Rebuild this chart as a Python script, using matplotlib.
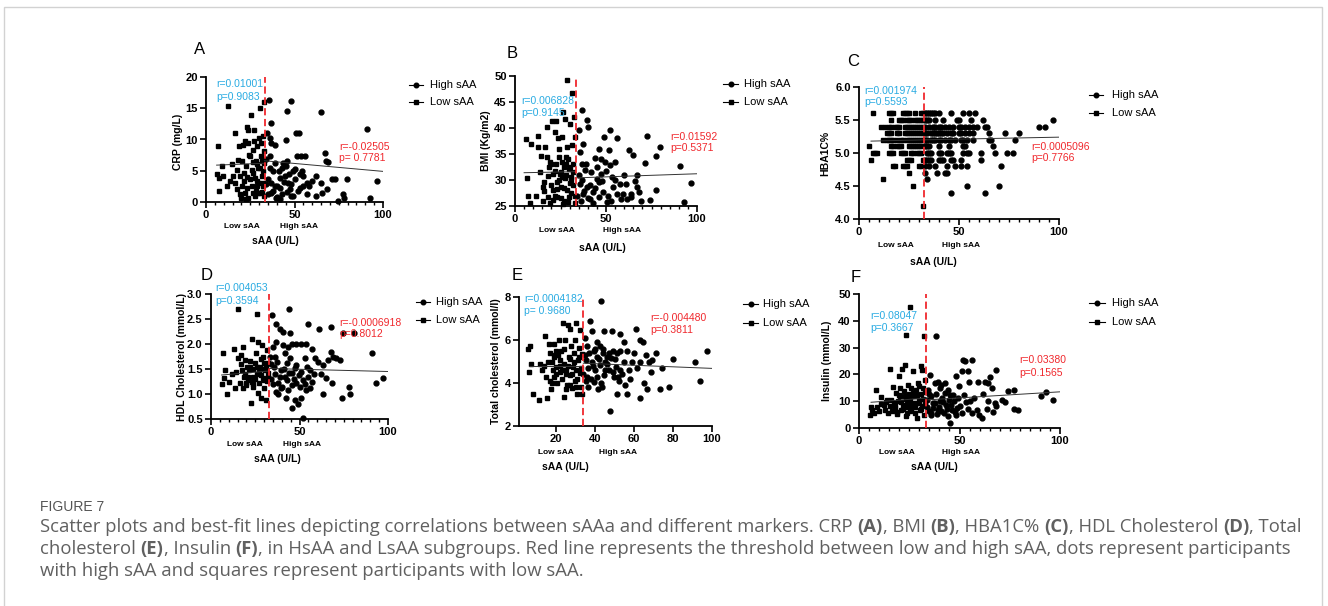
import matplotlib
matplotlib.use('Agg')
import matplotlib.pyplot as plt
from matplotlib.lines import Line2D
from matplotlib.patches import Rectangle
from matplotlib.ticker import MultipleLocator, FormatStrFormatter

plt.rcParams['font.family'] = ['Liberation Sans', 'DejaVu Sans']

# ---- data (x = sAA U/L) ----
a_low = [(6.4, 4.5), (6.6, 9.0), (7.5, 3.8), (7.5, 1.7), (8.8, 5.8), (12.6, 15.3), (13.5, 3.3), (14.5, 6.0),
         (15.4, 4.1), (16.4, 11.0), (16.4, 3.0), (17.3, 5.1), (18.2, 6.7), (18.8, 8.9), (19.2, 4.1), (19.5, 0.6),
         (20.1, 2.5), (20.7, 9.1), (21.4, 4.6), (22.0, 9.7), (22.6, 5.7), (22.9, 2.2), (23.3, 12.0), (23.9, 11.5),
         (23.9, 0.6), (24.4, 7.5), (24.8, 3.6), (25.4, 13.9), (25.8, 5.1), (26.3, 8.3), (26.7, 1.4), (27.1, 9.7),
         (27.6, 3.8), (28.2, 6.5), (28.6, 2.5), (29.0, 8.9), (29.5, 5.4), (30.1, 10.2), (30.5, 15.1), (30.5, 1.4),
         (31.0, 7.3), (31.4, 4.1), (32.0, 10.5), (32.3, 2.5), (32.9, 16.0), (32.7, 8.1), (32.9, 0.9),
         (9.8, 4.1), (11.7, 2.5), (17.3, 2.0), (20.1, 6.5), (21.4, 3.3), (22.6, 0.5), (24.8, 7.3), (25.8, 2.5),
         (26.7, 4.6), (27.6, 0.9), (28.6, 6.0), (29.0, 3.3), (29.5, 1.4), (30.1, 3.0), (30.5, 5.4), (31.0, 9.5),
         (31.4, 6.5), (32.0, 3.0), (32.3, 5.0), (32.7, 6.2), (22.0, 1.5), (23.3, 4.0), (26.3, 6.4), (28.2, 1.8),
         (31.8, 1.6), (27.0, 11.5), (24.0, 9.4), (19.0, 1.3)]
a_high = [(35.7, 16.3), (36.5, 12.7), (34.5, 11.0), (36.1, 10.2), (37.0, 9.4), (38.9, 9.1), (36.1, 7.3), (38.0, 4.9),
          (35.2, 3.6), (37.0, 1.4), (39.5, 0.6), (40.2, 2.5), (41.7, 3.8), (42.7, 5.4), (43.6, 6.2), (44.5, 4.1),
          (45.1, 9.9), (45.5, 14.6), (46.0, 6.6), (46.4, 3.0), (47.4, 2.0), (48.1, 16.1), (48.3, 0.9), (49.2, 4.9),
          (50.2, 3.6), (50.8, 11.1), (52.3, 11.1), (51.5, 7.3), (53.0, 2.2), (53.9, 7.3), (54.5, 4.9), (54.9, 4.1),
          (56.0, 7.4), (56.8, 3.0), (58.3, 2.5), (62.0, 4.1), (62.4, 0.9), (64.7, 3.0), (64.8, 14.4), (65.8, 1.4),
          (67.1, 7.8), (68.0, 6.6), (69.0, 6.4), (68.4, 2.0), (71.4, 3.6), (72.7, 3.6), (74.6, 0.2), (77.4, 1.2),
          (77.8, 0.7), (79.7, 3.7), (91.0, 11.7), (92.9, 0.7), (96.8, 3.4),
          (36.0, 5.5), (37.0, 3.0), (38.0, 1.8), (39.0, 6.2), (40.0, 0.8), (41.0, 5.0), (42.0, 2.2), (43.0, 1.2),
          (44.0, 3.2), (45.0, 5.8), (46.0, 1.6), (47.0, 4.4), (48.0, 2.8), (49.0, 1.0), (50.0, 5.2), (52.0, 1.8),
          (53.0, 4.4), (55.0, 2.6), (57.0, 1.2), (60.0, 3.3), (34.0, 2.8), (35.0, 1.2), (34.0, 6.8), (39.0, 2.6),
          (42.0, 0.4)]

b_low = [(5.9, 37.8), (6.4, 30.3), (7.3, 26.9), (8.3, 25.5), (8.8, 36.9), (11.6, 26.9), (12.8, 38.4), (12.8, 36.3),
         (14.3, 34.6), (15.2, 28.7), (15.6, 26.0), (16.0, 29.6), (16.5, 36.3), (17.4, 40.1), (17.4, 34.4),
         (18.3, 26.7), (18.9, 32.5), (19.3, 25.5), (20.2, 41.3), (20.7, 31.1), (21.1, 28.0), (22.0, 39.2),
         (22.6, 41.3), (22.6, 33.1), (22.9, 29.6), (23.3, 26.7), (23.9, 38.0), (24.4, 36.0), (24.8, 31.2),
         (25.1, 28.7), (25.7, 38.3), (26.2, 25.3), (26.6, 43.1), (26.9, 32.5), (27.5, 41.8), (27.5, 30.3),
         (28.1, 34.4), (28.4, 28.0), (28.8, 49.2), (28.8, 36.3), (29.4, 32.2), (29.9, 26.7), (30.3, 40.8),
         (30.6, 30.6), (31.2, 46.8), (31.2, 36.7), (31.7, 33.1), (32.1, 29.0), (32.5, 42.1), (32.7, 25.5),
         (33.0, 38.3), (14.0, 31.5), (16.0, 27.8), (18.0, 30.8), (19.0, 33.5), (20.0, 29.0), (21.0, 26.2),
         (22.0, 31.8), (23.0, 28.2), (24.0, 30.0), (25.0, 26.6), (26.0, 33.5), (27.0, 28.5), (28.0, 31.0),
         (29.0, 25.8), (30.0, 32.5), (31.0, 27.5), (32.0, 31.5), (20.0, 33.0), (24.0, 34.5), (27.0, 26.0),
         (30.0, 29.5), (22.0, 27.0), (26.0, 30.5), (29.0, 34.0), (31.0, 30.0), (33.0, 27.0), (25.0, 31.5),
         (28.0, 33.0)]
b_high = [(36.7, 43.5), (37.6, 37.0), (39.4, 41.6), (40.0, 40.1), (34.9, 39.6), (35.8, 35.4), (36.7, 33.1),
          (38.5, 31.9), (35.8, 29.3), (37.6, 27.4), (39.4, 28.7), (41.3, 26.4), (43.1, 27.7), (44.0, 34.3),
          (44.9, 32.5), (45.9, 36.0), (46.4, 29.6), (47.2, 31.2), (48.3, 27.7), (49.0, 38.3), (49.5, 33.5),
          (50.5, 25.8), (51.4, 35.7), (52.3, 39.7), (53.2, 30.6), (54.1, 28.7), (54.7, 33.5), (56.0, 38.1),
          (56.3, 27.4), (57.8, 29.2), (59.6, 27.4), (61.1, 29.3), (62.8, 35.7), (61.5, 26.4), (63.7, 27.4),
          (65.1, 34.9), (66.1, 29.9), (67.0, 28.7), (67.3, 30.9), (68.4, 27.7), (71.2, 33.3), (72.8, 38.5),
          (74.3, 26.1), (77.4, 34.7), (77.6, 28.0), (79.8, 36.3), (90.8, 32.6), (93.0, 25.8), (96.7, 29.5),
          (34.0, 27.0), (35.0, 31.0), (36.0, 26.0), (37.0, 30.0), (38.0, 27.8), (39.0, 33.0), (40.0, 26.5),
          (41.0, 29.0), (42.0, 31.5), (43.0, 25.5), (44.0, 28.5), (45.0, 30.2), (46.0, 26.8), (47.0, 34.0),
          (48.0, 29.8), (50.0, 31.8), (51.0, 27.0), (52.0, 32.8), (53.0, 26.0), (55.0, 30.0), (58.0, 26.3),
          (60.0, 31.0), (64.0, 26.8), (69.0, 26.0)]

c_low = [(7, 5.6), (15, 5.6), (16, 5.6), (17, 5.6), (22, 5.6), (23, 5.6), (24, 5.6), (25, 5.6), (28, 5.6),
         (31, 5.6), (32, 5.6),
         (16, 5.5), (20, 5.5), (21, 5.5), (22, 5.5), (24, 5.5), (25, 5.5), (26, 5.5), (28, 5.5), (29, 5.5),
         (30, 5.5), (31, 5.5), (32, 5.5),
         (11, 5.4), (13, 5.4), (15, 5.4), (16, 5.4), (18, 5.4), (19, 5.4), (20, 5.4), (23, 5.4), (24, 5.4),
         (25, 5.4), (26, 5.4), (27, 5.4), (28, 5.4), (29, 5.4), (30, 5.4), (31, 5.4), (32, 5.4),
         (14, 5.3), (15, 5.3), (16, 5.3), (19, 5.3), (20, 5.3), (23, 5.3), (24, 5.3), (25, 5.3), (26, 5.3),
         (27, 5.3), (28, 5.3), (29, 5.3), (30, 5.3), (31, 5.3), (32, 5.3),
         (12, 5.2), (14, 5.2), (15, 5.2), (16, 5.2), (17, 5.2), (19, 5.2), (21, 5.2), (22, 5.2), (24, 5.2),
         (25, 5.2), (26, 5.2), (27, 5.2), (28, 5.2), (29, 5.2), (30, 5.2), (31, 5.2), (32, 5.2),
         (5, 5.1), (16, 5.1), (17, 5.1), (19, 5.1), (20, 5.1), (21, 5.1), (25, 5.1), (26, 5.1), (27, 5.1),
         (28, 5.1), (29, 5.1), (30, 5.1), (31, 5.1),
         (7, 5.0), (8, 5.0), (9, 5.0), (15, 5.0), (16, 5.0), (17, 5.0), (21, 5.0), (22, 5.0), (23, 5.0),
         (26, 5.0), (27, 5.0), (29, 5.0), (30, 5.0), (31, 5.0),
         (6, 4.9), (24, 4.9), (25, 4.9), (26, 4.9), (32, 4.9),
         (17, 4.8), (18, 4.8), (22, 4.8), (23, 4.8), (24, 4.8), (30, 4.8), (31, 4.8),
         (25, 4.7), (12, 4.6), (27, 4.5), (32, 4.2)]
c_high = [(33, 5.6), (34, 5.6), (35, 5.6), (36, 5.6), (37, 5.6), (38, 5.6), (40, 5.6), (46, 5.6), (52, 5.6),
          (55, 5.6), (58, 5.6),
          (33, 5.5), (34, 5.5), (35, 5.5), (38, 5.5), (42, 5.5), (49, 5.5), (50, 5.5), (56, 5.5), (62, 5.5),
          (97, 5.5),
          (33, 5.4), (35, 5.4), (37, 5.4), (38, 5.4), (40, 5.4), (41, 5.4), (43, 5.4), (45, 5.4), (47, 5.4),
          (50, 5.4), (51, 5.4), (53, 5.4), (55, 5.4), (57, 5.4), (59, 5.4), (63, 5.4), (64, 5.4), (90, 5.4),
          (93, 5.4),
          (33, 5.3), (34, 5.3), (36, 5.3), (37, 5.3), (38, 5.3), (39, 5.3), (40, 5.3), (41, 5.3), (42, 5.3),
          (44, 5.3), (46, 5.3), (47, 5.3), (50, 5.3), (51, 5.3), (53, 5.3), (55, 5.3), (57, 5.3), (65, 5.3),
          (73, 5.3), (80, 5.3),
          (33, 5.2), (34, 5.2), (36, 5.2), (37, 5.2), (38, 5.2), (40, 5.2), (41, 5.2), (43, 5.2), (45, 5.2),
          (46, 5.2), (48, 5.2), (51, 5.2), (52, 5.2), (54, 5.2), (57, 5.2), (65, 5.2), (66, 5.2), (78, 5.2),
          (33, 5.1), (34, 5.1), (35, 5.1), (40, 5.1), (45, 5.1), (52, 5.1), (53, 5.1), (67, 5.1),
          (34, 5.0), (35, 5.0), (36, 5.0), (40, 5.0), (41, 5.0), (44, 5.0), (45, 5.0), (46, 5.0), (52, 5.0),
          (54, 5.0), (55, 5.0), (61, 5.0), (68, 5.0), (74, 5.0), (77, 5.0),
          (33, 4.9), (34, 4.9), (35, 4.9), (36, 4.9), (40, 4.9), (41, 4.9), (42, 4.9), (46, 4.9), (47, 4.9),
          (51, 4.9), (61, 4.9),
          (33, 4.8), (35, 4.8), (38, 4.8), (44, 4.8), (48, 4.8), (51, 4.8), (54, 4.8), (71, 4.8),
          (33, 4.7), (39, 4.7), (43, 4.7), (44, 4.7), (34, 4.6), (54, 4.5), (70, 4.5), (46, 4.4), (63, 4.4)]

d_low = [(6.0, 1.20), (6.6, 1.82), (7.5, 1.32), (7.9, 1.48), (9.2, 1.00), (11.7, 1.40), (12.9, 1.90), (13.5, 1.12),
         (15.4, 2.71), (15.4, 1.72), (16.4, 1.22), (16.7, 1.78), (17.3, 1.48), (17.9, 1.12), (18.2, 1.95),
         (18.6, 1.35), (19.2, 1.68), (19.7, 1.18), (20.1, 1.55), (20.7, 1.28), (21.6, 1.48), (22.0, 1.67),
         (22.5, 0.82), (22.9, 2.10), (23.5, 1.15), (23.9, 1.35), (24.8, 1.62), (25.4, 1.82), (26.1, 2.61),
         (26.1, 1.40), (26.7, 2.05), (26.7, 1.02), (27.3, 1.23), (27.6, 1.55), (28.0, 0.92), (28.6, 1.98),
         (29.1, 1.32), (29.5, 1.74), (29.9, 1.12), (30.5, 1.48), (31.0, 0.89), (31.4, 1.88), (31.8, 1.27),
         (32.3, 1.62), (32.3, 1.42), (10.0, 1.25), (14.0, 1.45), (17.0, 1.60), (19.0, 1.40), (20.0, 1.22),
         (21.0, 1.35), (23.0, 1.25), (24.0, 1.50), (25.0, 1.30), (26.0, 1.55), (27.0, 1.45), (28.0, 1.38),
         (29.0, 1.50), (30.0, 1.28), (31.0, 1.55), (32.0, 1.35), (22.0, 1.55), (24.0, 1.20), (28.0, 1.70),
         (30.0, 1.62)]
d_high = [(34.6, 2.58), (36.7, 2.40), (38.9, 2.30), (40.4, 2.25), (44.2, 2.70), (44.9, 2.22), (54.9, 2.40),
          (61.1, 2.30), (67.7, 2.35), (74.6, 2.22), (35.2, 1.95), (37.0, 2.05), (40.8, 1.98), (41.7, 1.82),
          (43.6, 1.95), (45.5, 2.00), (47.8, 2.00), (51.1, 2.00), (53.4, 2.00), (33.3, 1.75), (35.5, 1.55),
          (37.4, 1.65), (39.8, 1.48), (41.7, 1.35), (42.7, 1.62), (44.5, 1.72), (46.0, 1.42), (47.4, 1.52),
          (48.3, 1.22), (49.8, 1.38), (52.1, 1.28), (53.0, 1.72), (54.0, 1.55), (55.8, 1.48), (56.8, 1.90),
          (59.0, 1.72), (60.5, 1.65), (62.4, 1.40), (63.3, 1.58), (64.8, 1.32), (66.2, 1.68), (68.0, 1.85),
          (68.9, 1.74), (70.4, 1.72), (73.0, 1.68), (36.7, 1.05), (37.9, 1.00), (39.8, 1.12), (42.3, 0.92),
          (43.6, 1.08), (45.9, 0.72), (47.4, 0.89), (49.2, 0.80), (51.1, 0.92), (52.1, 0.52), (53.6, 1.08),
          (55.8, 1.12), (63.3, 1.00), (68.6, 1.22), (74.2, 0.92), (78.0, 1.15), (78.4, 1.00), (80.6, 2.22),
          (91.2, 1.82), (93.4, 1.22), (97.2, 1.33), (34.0, 1.30), (35.0, 1.20), (36.0, 1.40), (38.0, 1.22),
          (39.0, 1.35), (40.0, 1.15), (41.0, 1.50), (43.0, 1.28), (44.0, 1.42), (46.0, 1.18), (47.0, 1.30),
          (48.0, 1.58), (50.0, 1.15), (51.0, 1.45), (53.0, 1.20), (55.0, 1.35), (57.0, 1.25), (58.0, 1.40),
          (34.0, 1.60), (36.0, 1.75)]

e_low = [(5.5, 5.6), (6.8, 5.7), (5.9, 4.5), (7.1, 4.9), (8.2, 3.5), (11.1, 3.2), (11.9, 4.9), (12.8, 4.6),
         (14.5, 6.2), (15.0, 4.3), (15.4, 3.3), (16.2, 5.8), (16.8, 5.4), (17.1, 4.1), (17.4, 3.7), (17.9, 5.0),
         (18.5, 4.6), (18.8, 5.8), (19.1, 4.3), (19.7, 5.3), (20.2, 4.75), (20.5, 4.0), (21.4, 6.0), (21.9, 5.05),
         (22.2, 4.5), (22.6, 5.5), (23.1, 4.2), (23.6, 6.8), (24.0, 4.9), (24.3, 3.36), (24.8, 6.0), (25.3, 4.6),
         (25.6, 3.9), (26.0, 6.7), (26.5, 5.2), (27.0, 4.35), (27.4, 6.5), (27.7, 5.7), (28.2, 3.75),
         (28.7, 4.75), (29.1, 5.4), (29.6, 6.0), (29.9, 4.1), (30.4, 6.8), (30.8, 3.5), (31.1, 5.05),
         (31.6, 5.65), (32.1, 4.45), (32.5, 6.45), (33.0, 3.8), (33.3, 5.35), (33.3, 3.5),
         (14.0, 4.8), (16.0, 5.0), (18.0, 4.0), (19.0, 5.2), (20.0, 4.4), (21.0, 5.3), (22.0, 4.8), (23.0, 4.6),
         (24.0, 5.6), (25.0, 4.4), (26.0, 4.8), (27.0, 5.1), (28.0, 4.4), (29.0, 5.0), (30.0, 4.6), (31.0, 4.2),
         (32.0, 5.2), (33.0, 4.7), (25.0, 3.7), (30.0, 3.8), (20.0, 5.5), (27.0, 3.9)]
e_high = [(43.1, 7.8), (37.6, 6.9), (38.5, 6.4), (41.0, 5.9), (44.8, 6.4), (48.7, 6.4), (53.0, 6.3), (61.2, 6.5),
          (62.9, 6.0), (64.6, 5.9), (35.0, 6.1), (35.9, 5.7), (39.3, 5.5), (42.4, 5.7), (44.1, 5.4), (46.2, 5.2),
          (49.2, 5.5), (51.3, 5.4), (53.0, 5.5), (55.0, 5.9), (56.4, 5.5), (35.4, 5.05), (36.6, 4.7), (38.5, 5.0),
          (40.2, 4.6), (41.0, 5.2), (42.7, 4.85), (44.4, 4.35), (45.3, 5.0), (47.0, 4.6), (48.2, 5.15),
          (49.6, 4.3), (50.9, 4.75), (52.1, 4.1), (53.0, 4.6), (54.7, 5.0), (55.6, 3.9), (57.3, 4.6), (59.0, 5.0),
          (61.5, 4.7), (63.2, 5.0), (65.3, 4.0), (66.2, 5.3), (66.7, 3.7), (67.9, 5.0), (68.7, 4.5), (69.3, 5.05),
          (71.5, 5.4), (74.4, 4.7), (73.1, 3.7), (78.1, 3.8), (80.0, 5.1), (91.5, 5.0), (93.7, 4.1), (97.4, 5.5),
          (39.3, 4.05), (41.4, 3.7), (43.6, 3.8), (47.9, 2.7), (51.3, 3.5), (56.4, 3.5), (63.2, 3.3), (35.4, 4.1),
          (36.6, 3.8), (34.0, 4.4), (35.0, 5.3), (36.0, 4.3), (37.0, 5.4), (38.0, 4.2), (39.0, 4.8), (40.0, 5.6),
          (41.0, 4.3), (42.0, 5.1), (43.0, 4.0), (44.0, 5.6), (45.0, 4.6), (46.0, 4.9), (47.0, 5.4), (49.0, 4.5),
          (50.0, 5.1), (52.0, 4.3), (54.0, 4.4), (58.0, 4.2), (60.0, 5.4)]

f_low = [(5.6, 4.7), (6.1, 7.8), (6.6, 6.6), (7.3, 5.6), (8.6, 14.3), (11.1, 11.4), (12.3, 8.7), (12.8, 6.8),
         (13.6, 9.6), (14.5, 5.6), (15.3, 8.1), (15.6, 22.1), (16.1, 10.6), (16.6, 6.2), (17.0, 15.3), (17.3, 9.3),
         (17.8, 7.5), (18.3, 13.1), (18.9, 5.3), (19.5, 10.0), (19.9, 19.5), (20.3, 14.9), (20.6, 11.8),
         (21.1, 6.8), (21.6, 22.0), (21.9, 8.7), (22.3, 13.7), (22.8, 23.4), (23.3, 10.8), (23.3, 4.4),
         (23.6, 34.8), (23.9, 7.8), (24.4, 16.2), (24.9, 12.8), (25.2, 6.2), (25.6, 45.1), (25.6, 10.0),
         (26.1, 14.9), (26.6, 8.7), (26.9, 21.4), (27.2, 11.8), (27.7, 5.6), (28.2, 14.3), (28.6, 9.3),
         (28.9, 3.7), (29.4, 16.8), (29.9, 10.6), (30.2, 6.8), (30.7, 23.0), (30.7, 12.8), (31.1, 21.5),
         (31.4, 8.1), (31.9, 14.9), (32.2, 34.2), (32.4, 5.0), (32.7, 18.0),
         (9.0, 8.0), (10.0, 6.5), (11.0, 9.0), (14.0, 10.5), (18.0, 8.5), (19.0, 6.0), (20.0, 12.5), (21.0, 9.8),
         (22.0, 7.0), (23.0, 12.0), (24.0, 9.0), (25.0, 11.5), (26.0, 7.2), (27.0, 13.0), (28.0, 8.0),
         (29.0, 12.2), (30.0, 9.5), (31.0, 7.0), (32.0, 11.0), (33.0, 9.0), (33.0, 13.5), (24.0, 5.5),
         (27.0, 9.5), (30.0, 15.5)]
f_high = [(38.5, 34.5), (35.2, 19.9), (37.7, 16.8), (39.4, 17.0), (40.5, 14.9), (42.7, 16.8), (44.4, 14.0),
          (48.5, 19.3), (49.8, 15.5), (51.0, 21.1), (51.8, 25.2), (52.7, 24.9), (54.3, 21.1), (54.8, 17.1),
          (56.0, 25.5), (59.3, 17.0), (62.6, 17.1), (64.0, 16.8), (65.4, 19.0), (66.0, 14.9), (68.1, 21.5),
          (34.4, 14.3), (36.0, 11.8), (36.9, 9.3), (38.2, 12.8), (39.4, 6.8), (40.2, 10.0), (41.5, 11.2),
          (42.2, 5.6), (43.2, 8.7), (44.4, 4.4), (45.2, 1.9), (45.5, 12.4), (46.5, 6.8), (47.2, 10.0), (48.2, 5.0),
          (49.3, 11.2), (50.2, 8.1), (51.0, 5.6), (52.2, 12.4), (53.0, 9.6), (54.0, 7.1), (55.1, 9.9), (56.0, 5.6),
          (57.1, 11.2), (58.5, 6.8), (59.8, 5.0), (61.0, 3.7), (61.8, 12.8), (63.5, 7.1), (64.3, 9.9), (66.8, 5.8),
          (67.6, 9.3), (68.4, 8.3), (70.9, 10.3), (72.6, 9.7), (73.9, 13.7), (77.1, 14.0), (77.2, 7.1),
          (79.2, 6.6), (90.4, 11.8), (93.0, 13.3), (96.3, 10.3),
          (34.0, 8.0), (35.0, 6.5), (36.0, 5.5), (37.0, 7.5), (38.0, 9.5), (39.0, 5.2), (40.0, 7.8), (41.0, 6.2),
          (42.0, 9.8), (43.0, 13.0), (44.0, 7.0), (45.0, 10.5), (46.0, 8.5), (47.0, 12.5), (48.0, 6.0),
          (49.0, 7.5), (34.0, 10.5), (35.0, 12.8), (36.0, 4.8), (41.0, 16.0)]

# best-fit segments: (x0, y0, x1, y1) for low and high groups
fit_low = [(6, 5.9, 33, 6.2), (5, 31.4, 33, 31.6), (6, 5.18, 33, 5.20),
           (6, 1.38, 33, 1.46), (6, 4.80, 34, 4.80), (6, 9.6, 34, 11.2)]
fit_high = [(33, 6.6, 100, 4.9), (33, 30.4, 100, 31.2), (33, 5.20, 100, 5.24),
            (33, 1.51, 100, 1.45), (34, 4.92, 100, 4.68), (34, 10.5, 100, 13.5)]
thresholds = [33.3, 33.5, 32.5, 32.8, 33.8, 33.3]

letters = ['A', 'B', 'C', 'D', 'E', 'F']
ylabels = ['CRP (mg/L)', 'BMI (Kg/m2)', 'HBA1C%', 'HDL Cholesterol (mmol/L)',
           'Total cholesterol (mmol/l)', 'Insulin (mmol/L)']
low_stats = [('r=0.01001', 'p=0.9083'), ('r=0.006828', 'p=0.9145'), ('r=0.001974', 'p=0.5593'),
             ('r=0.004053', 'p=0.3594'), ('r=0.0004182', 'p= 0.9680'), ('r=0.08047', 'p=0.3667')]
high_stats = [('r=-0.02505', 'p= 0.7781'), ('r=0.01592', 'p=0.5371'), ('r=0.0005096', 'p=0.7766'),
              ('r=-0.0006918', 'p=0.8012'), ('r=-0.004480', 'p=0.3811'), ('r=0.03380', 'p=0.1565')]
ylims = [(0, 20), (25, 50), (4.0, 6.0), (0.5, 3.0), (2, 8), (0, 50)]
ysteps = [5, 5, 0.5, 0.5, 2, 10]
yfmts = ['%d', '%d', '%.1f', '%.1f', '%d', '%d']
xlims = [(0, 100), (0, 100), (0, 100), (0, 100), (1, 100), (0, 100)]
xsteps = [50, 50, 50, 50, 20, 50]
legend_labels = ['High sAA', 'Low sAA']

caption_title = 'FIGURE 7'
caption_lines = [
    [('Scatter plots and best-fit lines depicting correlations between sAAa and different markers. CRP ', False),
     ('(A)', True), (', BMI ', False), ('(B)', True), (', HBA1C% ', False), ('(C)', True),
     (', HDL Cholesterol ', False), ('(D)', True), (', Total', False)],
    [('cholesterol ', False), ('(E)', True), (', Insulin ', False), ('(F)', True),
     (', in HsAA and LsAA subgroups. Red line represents the threshold between low and high sAA, dots represent participants', False)],
    [('with high sAA and squares represent participants with low sAA.', False)],
]

panels_low = [a_low, b_low, c_low, d_low, e_low, f_low]
panels_high = [a_high, b_high, c_high, d_high, e_high, f_high]

# ---- layout (pixels in a 1328 x 606 canvas) ----
W, H = 1328, 606
BLUE = '#29abe2'
RED = '#f0282d'

# axes boxes: left, top, right, bottom
boxes = [(206, 77, 383, 202), (515, 76, 697, 206), (859, 87, 1059, 219),
         (211, 294, 388, 419), (519, 297, 712, 426), (859, 294, 1060, 428)]
letter_pos = [(200, 49), (512, 54), (853, 61), (207, 276), (517, 276), (856, 277)]
blue_pos = [(216, 84, 97), (521, 101, 113), (864, 91, 102), (215, 288, 301), (524, 299, 311), (870, 316, 328)]
red_pos = [(339, 147, 158), (670, 137, 148), (1031, 147, 158), (339, 323, 334), (650, 318, 330), (1019, 360, 373)]
legend_pos = [(409, 423, 430, 85, 102), (723, 738, 744, 84, 102), (1089, 1103, 1112, 95, 113),
              (416, 430, 436, 302, 320), (743, 758, 763, 304, 323), (1089, 1105, 1112, 303, 322)]
group_pos = [(242, 299, 226), (557, 622, 231), (896, 961, 245), (245, 302, 444), (556, 618, 452), (897, 961, 453)]
xlabel_pos = [(275, 241), (602, 248), (933, 262), (277, 459), (565, 467), (934, 467)]
ylabel_pos = [(178, 142), (486, 141), (825, 153), (182, 357), (496, 361), (827, 361)]


def fx(px):
    return px / W


def fy(py):
    return 1 - py / H


fig = plt.figure(figsize=(W / 100, H / 100), dpi=100)

fig.add_artist(Rectangle((fx(4), -0.1), fx(1322) - fx(4), fy(7) + 0.1, transform=fig.transFigure,
                         fill=False, edgecolor='#d2d2d2', lw=1))

for i in range(6):
    l, t, r, b = boxes[i]
    ax = fig.add_axes([fx(l), fy(b), (r - l) / W, (b - t) / H])
    lo = panels_low[i]
    hi = panels_high[i]
    ax.plot([p[0] for p in lo], [p[1] for p in lo], 's', ms=3.3, color='black', clip_on=False, zorder=3)
    ax.plot([p[0] for p in hi], [p[1] for p in hi], 'o', ms=3.5, color='black', clip_on=False, zorder=3)
    for seg in (fit_low[i], fit_high[i]):
        ax.plot([seg[0], seg[2]], [seg[1], seg[3]], color='#333333', lw=0.7, zorder=4)
    ax.axvline(thresholds[i], color=RED, lw=1.3, ls=(0, (4, 2)), zorder=5)

    ax.set_xlim(*xlims[i])
    ax.set_ylim(*ylims[i])
    ax.xaxis.set_major_locator(MultipleLocator(xsteps[i]))
    if xsteps[i] == 50:
        ax.xaxis.set_minor_locator(MultipleLocator(5))
    ax.yaxis.set_major_locator(MultipleLocator(ysteps[i]))
    ax.yaxis.set_major_formatter(FormatStrFormatter(yfmts[i]))
    for s in ('top', 'right'):
        ax.spines[s].set_visible(False)
    for s in ('left', 'bottom'):
        ax.spines[s].set_linewidth(1.3)
    ax.tick_params(which='major', length=4, width=1.2, pad=2, labelsize=8)
    ax.tick_params(which='minor', length=2.5, width=1.0)
    for lab in ax.get_xticklabels() + ax.get_yticklabels():
        lab.set_fontweight('bold')

    fig.text(fx(letter_pos[i][0]), fy(letter_pos[i][1]), letters[i], fontsize=12, ha='center', va='center')
    bx, by1, by2 = blue_pos[i]
    fig.text(fx(bx), fy(by1), low_stats[i][0], color=BLUE, fontsize=7.5, va='center')
    fig.text(fx(bx), fy(by2), low_stats[i][1], color=BLUE, fontsize=7.5, va='center')
    rx, ry1, ry2 = red_pos[i]
    fig.text(fx(rx), fy(ry1), high_stats[i][0], color=RED, fontsize=7.5, va='center')
    fig.text(fx(rx), fy(ry2), high_stats[i][1], color=RED, fontsize=7.5, va='center')

    x1, x2, xt, yh, yl = legend_pos[i]
    for yy, mk, lab in ((yh, 'o', legend_labels[0]), (yl, 's', legend_labels[1])):
        fig.add_artist(Line2D([fx(x1), fx(x2)], [fy(yy), fy(yy)], transform=fig.transFigure, color='black', lw=0.8))
        fig.add_artist(Line2D([fx((x1 + x2) / 2)], [fy(yy)], transform=fig.transFigure, marker=mk, ms=3.3,
                              color='black', ls='none'))
        fig.text(fx(xt), fy(yy), lab, fontsize=8, va='center')

    gl, gh, gy = group_pos[i]
    fig.text(fx(gl), fy(gy), 'Low sAA', fontsize=6, fontweight='bold', ha='center', va='center')
    fig.text(fx(gh), fy(gy), 'High sAA', fontsize=6, fontweight='bold', ha='center', va='center')
    fig.text(fx(xlabel_pos[i][0]), fy(xlabel_pos[i][1]), 'sAA (U/L)', fontsize=7.5, fontweight='bold',
             ha='center', va='center')
    fig.text(fx(ylabel_pos[i][0]), fy(ylabel_pos[i][1]), ylabels[i], fontsize=7.5, fontweight='bold',
             ha='center', va='center', rotation=90)

# ---- caption ----
fig.text(fx(40), fy(507), caption_title, fontsize=10, color='#555555', va='center',
         family=['Liberation Sans Narrow', 'Liberation Sans', 'DejaVu Sans'], fontstretch='condensed')
renderer = fig.canvas.get_renderer()
for row, segs in enumerate(caption_lines):
    x = 40
    y = 527 + row * 22
    for txt, bold in segs:
        t = fig.text(fx(x), fy(y), txt, fontsize=13.3, color='#606060', va='center',
                     family=['Open Sans', 'DejaVu Sans'], fontweight='bold' if bold else 'normal')
        x += t.get_window_extent(renderer).width

fig.savefig('out.png', dpi=100)
